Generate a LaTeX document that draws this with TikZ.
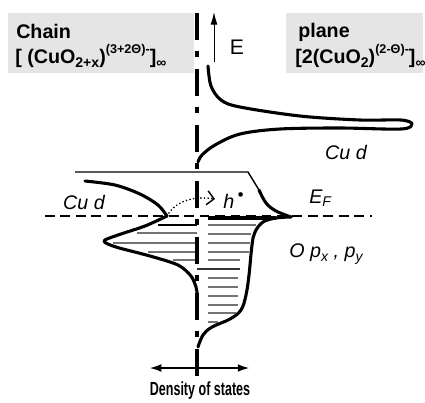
\documentclass[tikz,border=0pt]{standalone}
\usepackage{fontspec}
\setmainfont{Liberation Sans}
\usetikzlibrary{arrows.meta}

\newcommand{\lowtxt}[1]{\raisebox{-0.35ex}{\fontsize{10}{12}\selectfont #1}}
\newcommand{\hightxt}[1]{\raisebox{0.95ex}{\fontsize{9}{11}\selectfont #1}}

\tikzset{
  dos/.style={line width=2.2pt, line join=round, line cap=round},
  hatch/.style={line width=0.8pt, black!55},
  lbl/.style={font=\fontsize{14}{16}\selectfont\itshape, inner sep=0pt},
  boxtxt/.style={font=\fontsize{14}{16}\selectfont\bfseries, anchor=west, inner sep=0pt},
}

\begin{document}
\begin{tikzpicture}[x=0.25mm,y=-0.25mm]
  \useasboundingbox (0,0) rectangle (425,402);

  % grey title boxes
  \fill[gray!20] (8,13) rectangle (194,73);
  \fill[gray!20] (286,13) rectangle (423,73);
  \node[boxtxt] (chain) at (16,31) {Chain};
  \node[boxtxt] (chainf) at (15,56) {[ (CuO\lowtxt{2+x})\hightxt{(3+2Θ)-}]\lowtxt{∞}};
  \node[boxtxt] (plane) at (298,32) {plane};
  \node[boxtxt] (planef) at (295,56) {[2(CuO\lowtxt{2})\hightxt{(2-Θ)-}]\lowtxt{∞}};

  % hatching, chain side
  \foreach \y/\xa in {233/137,243/113,252/148,260/173}
    \draw[hatch] (\xa,\y) -- (197,\y);
  % hatching, plane side
  \foreach \y/\xb in {225/256,234/251,243/250,252/249,260/240,278/238,287/238,296/238,305/238,313/236,322/218}
    \draw[hatch] (208,\y) -- (\xb,\y);
  \draw[line width=0.8pt, black!80] (197,269) -- (240,269);

  % energy axis
  \draw[line width=2.2pt, dash pattern=on 19.2pt off 7.8pt on 4.3pt off 8.5pt] (197,13) -- (197,380);

  % Fermi level
  \draw[line width=0.9pt, dash pattern=on 7pt off 4pt] (45,216) -- (372,216);

  % plane: Cu d band
  \draw[dos] plot[smooth, tension=0.55] coordinates {(208,66) (211,86) (221,100) (240,107) (300,116) (360,120) (401,120) (412,124) (401,129) (340,128) (280,129) (240,134) (215,145) (202,155) (198,162)};

  % plane: O p band
  \draw[line width=1pt] (75,172) -- (248,172) -- (259,190);
  \draw[dos] plot[smooth, tension=0.6] coordinates {(259,190) (266,203) (276,211) (291,217)};
  \draw[dos] plot[smooth, tension=0.6] coordinates {(291,217) (276,218) (263,222) (255,232) (252,245) (249,275) (246,295) (241,310) (230,319) (212,327) (203,335) (198,347)};
  \draw[line width=2.8pt] (208,218) -- (276,218);

  % chain band
  \draw[dos] plot[smooth] coordinates {(85,181) (115,185) (140,194) (158,205) (167,216)};
  \draw[dos] plot[smooth] coordinates {(167,216) (145,226) (118,235) (104,241) (116,247) (150,256) (178,265) (191,276) (196,287) (197,293)};
  \draw[line width=2.1pt] (158,225) -- (197,225);
  \coordinate (ltip) at (167,216);

  % labels
  \node[font=\fontsize{15}{17}\selectfont, inner sep=0pt] (E) at (237,47) {E};
  \node[lbl] (cud1) at (346,152) {Cu d};
  \node[lbl] (cud2) at (84,202) {Cu d};
  \node[lbl, anchor=base west] (EF) at (309,203) {E\lowtxt{F}};
  \node[lbl] (Op) at (326,254) {O p\lowtxt{x} , p\lowtxt{y}};
  \node[lbl, anchor=base west] (h) at (223,208) {h\,\raisebox{5.5pt}{\fontsize{12}{12}\selectfont •}};
  \node[font=\fontsize{13.5}{15}\selectfont\bfseries, inner sep=0pt] (dos) at (200,391) {\scalebox{0.66}[1]{Density of states}};

  % arrows
  \coordinate (Ebot) at (214,62);
  \coordinate (Etop) at (214,12);
  \draw[line width=0.7pt, -{Latex[length=9pt,width=5pt]}] (Ebot) -- (Etop);
  \coordinate (hp) at (215,199);
  \draw[line width=1.3pt, line cap=round, dash pattern=on 0pt off 2.6pt, -{Straight Barb[length=5pt,width=10pt,line width=1pt]}] (ltip) .. controls (176,200) and (195,196) .. (hp);
  \coordinate (dosL) at (150,368);
  \coordinate (dosR) at (249,368);
  \draw[line width=0.8pt, {Latex[length=8pt,width=5.5pt]}-{Latex[length=8pt,width=5.5pt]}] (dosL) -- (dosR);
\end{tikzpicture}
\end{document}
